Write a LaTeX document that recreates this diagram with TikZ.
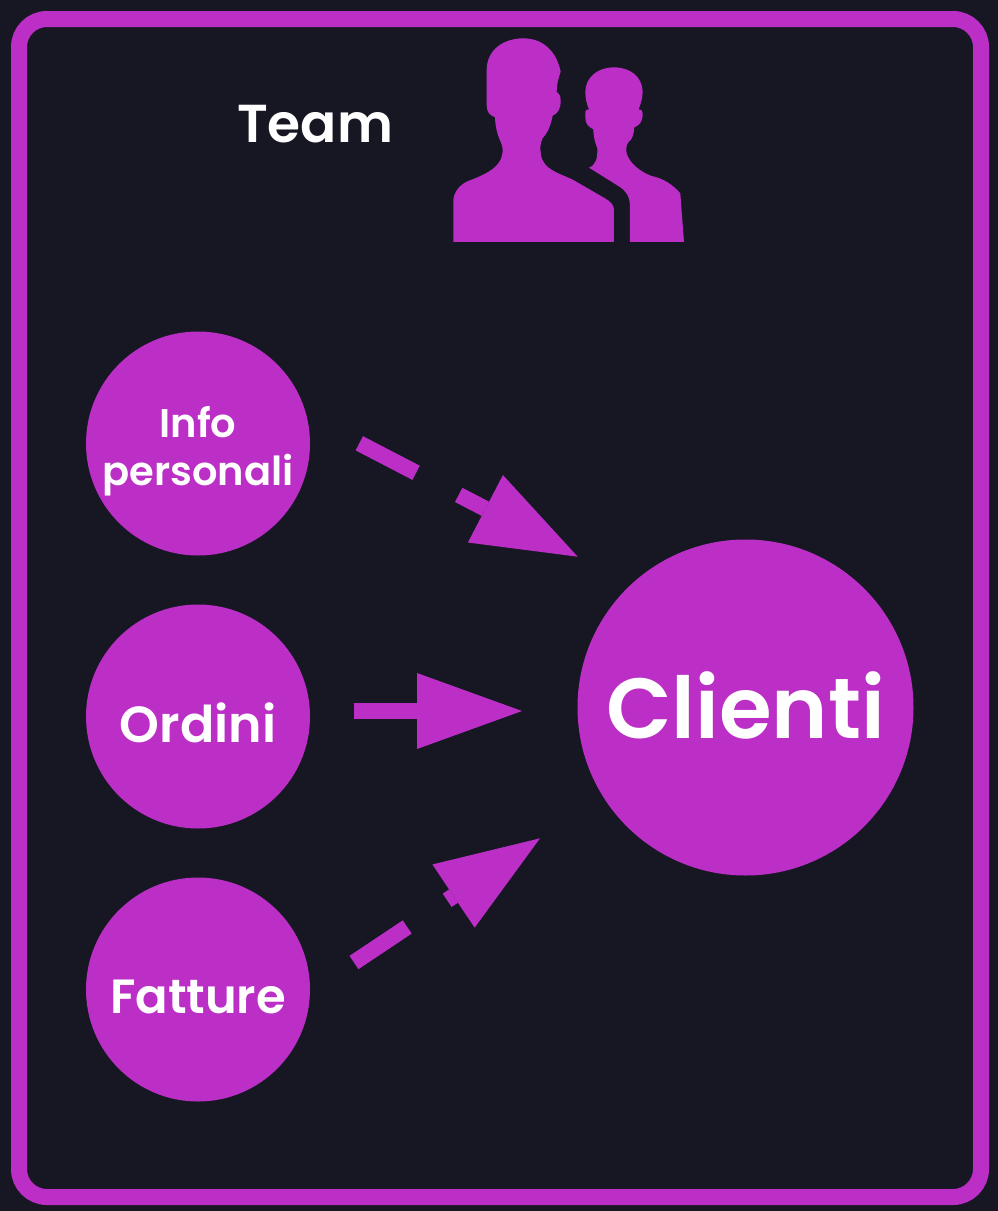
\documentclass[tikz,border=0pt]{standalone}
\usepackage{fontspec}
\setmainfont{Poppins}[UprightFont=* SemiBold]
\usetikzlibrary{arrows.meta}
\definecolor{bgdark}{HTML}{171723}
\definecolor{violetmain}{HTML}{BB2FC7}
\tikzset{
  bubble/.style={circle,fill=violetmain,inner sep=0pt,text=white,minimum size=#1},
  flow/.style={draw=violetmain,line width=16pt,dash pattern=on 64pt off 48pt,
    -{Triangle[length=104pt,width=76pt,line width=0pt,color=violetmain,fill=violetmain]}},
  solidflow/.style={draw=violetmain,line width=16pt,
    -{Triangle[length=105pt,width=76pt,line width=0pt,color=violetmain,fill=violetmain]}},
}
\begin{document}
\begin{tikzpicture}[x=1pt,y=-1pt]
\useasboundingbox (0,0) rectangle (998,1211);
\fill[bgdark] (0,0) rectangle (998,1211);
\draw[violetmain,line width=16pt,rounded corners=28pt] (19,19) rectangle (981,1197);

\node[text=white,inner sep=0pt,font=\fontsize{53.4}{60}\selectfont] (team) at (315,124) {Team};

\begin{scope}[shift={(440,30)},x=0.3333pt,y=-0.3333pt]
\fill[violetmain] (40,636) -- (40,510) .. controls (42,485) and (60,465) .. (80,455)
  .. controls (130,435) and (188,415) .. (188,360)
  .. controls (188,335) and (168,325) .. (165,262)
  .. controls (150,255) and (141,250) .. (140,225)
  -- (140,120) .. controls (140,60) and (190,25) .. (250,25)
  .. controls (310,25) and (350,65) .. (362,125)
  .. controls (355,145) and (350,165) .. (350,185)
  .. controls (358,190) and (362,198) .. (362,212)
  .. controls (362,235) and (355,250) .. (338,257)
  .. controls (332,290) and (320,312) .. (308,325)
  .. controls (300,340) and (300,355) .. (303,375)
  .. controls (310,420) and (360,430) .. (400,450)
  -- (495,505) .. controls (512,515) and (522,525) .. (522,540)
  -- (522,636) -- cycle;
\fill[violetmain] (570,636) -- (570,525) .. controls (568,495) and (555,480) .. (535,468)
  -- (447,413) .. controls (468,405) and (473,385) .. (472,355)
  .. controls (462,330) and (460,310) .. (460,298)
  .. controls (445,290) and (436,282) .. (436,262)
  -- (436,245) .. controls (437,240) and (442,238) .. (447,238)
  .. controls (440,222) and (436,205) .. (436,185)
  .. controls (437,140) and (475,112) .. (522,112)
  .. controls (570,112) and (607,140) .. (608,185)
  .. controls (608,205) and (602,222) .. (596,238)
  .. controls (604,238) and (608,242) .. (608,250)
  .. controls (608,275) and (600,285) .. (583,292)
  .. controls (582,310) and (578,328) .. (565,337)
  .. controls (558,345) and (558,360) .. (560,370)
  .. controls (568,400) and (605,428) .. (635,438)
  .. controls (670,445) and (700,465) .. (721,490)
  -- (732,636) -- cycle;
\end{scope}

\node[bubble=224pt,font=\fontsize{40}{47.5}\selectfont] (info) at (198,443.5) {\makebox[0pt]{\raisebox{-14pt}[0pt][0pt]{\parbox{220pt}{\centering Info\\personali}}}};
\node[bubble=224pt,text height=51pt,text depth=0pt,font=\fontsize{50.7}{56}\selectfont] (ordini) at (198,716.5) {Ordini};
\node[bubble=224pt,text height=47pt,text depth=0pt,font=\fontsize{48}{56}\selectfont] (fatture) at (198,989.5) {Fatture};
\node[bubble=336pt,text height=61pt,text depth=0pt,font=\fontsize{85.3}{100}\selectfont] (clienti) at (745.5,707.5) {Clienti};

\coordinate (a1s) at (359.3,443.3);
\coordinate (a1e) at (577.7,556.7);
\coordinate (a2s) at (354,711);
\coordinate (a2e) at (522,711);
\coordinate (a3s) at (354,962.5);
\coordinate (a3e) at (540,838.3);
\draw[flow] (a1s) -- (a1e);
\draw[solidflow] (a2s) -- (a2e);
\draw[flow] (a3s) -- (a3e);
\end{tikzpicture}
\end{document}
